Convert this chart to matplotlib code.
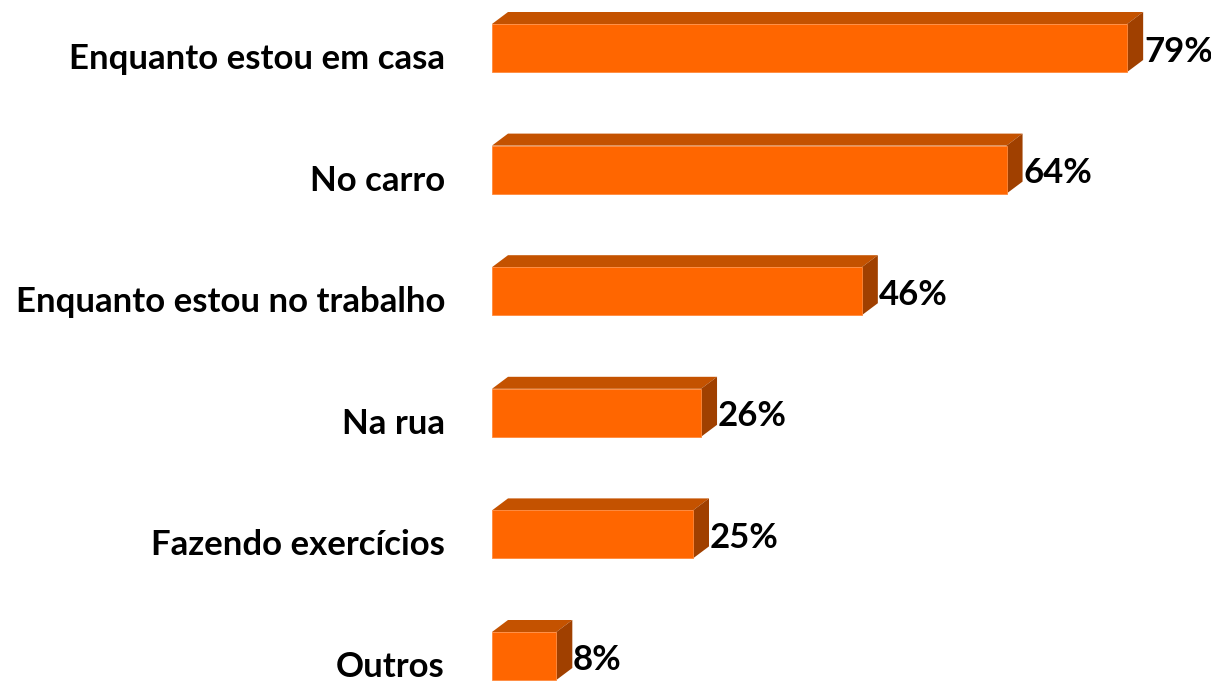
import matplotlib.pyplot as plt
from matplotlib.patches import Polygon

categorias = ['Enquanto estou em casa', 'No carro', 'Enquanto estou no trabalho',
              'Na rua', 'Fazendo exercícios', 'Outros']
valores = [79, 64, 46, 26, 25, 8]
rotulos = ['79%', '64%', '46%', '26%', '25%', '8%']

cor_frente = '#FF6600'
cor_topo = '#C45200'
cor_lado = '#A04000'

fig = plt.figure(figsize=(12.11, 6.81), dpi=100)
# axes starts where the bars start
ax = fig.add_axes([492 / 1211, 0, 719 / 1211, 1])
ax.set_xlim(0, 719 / 8.04)
ax.set_ylim(681 / 121.6 - 48 / 121.6, -48 / 121.6)
ax.axis('off')

altura = 48 / 121.6
dx = 16 / 8.04      # profundidade 3D em x
dy = 12 / 121.6     # profundidade 3D em y

pos = list(range(len(categorias)))
ax.barh(pos, valores, height=altura, color=cor_frente, edgecolor='#FF8A3D',
        linewidth=0.6, zorder=3)

for i, v in enumerate(valores):
    topo = i - altura / 2
    base = i + altura / 2
    # face de cima
    ax.add_patch(Polygon([(0, topo), (dx, topo - dy), (v + dx, topo - dy), (v, topo)],
                         closed=True, facecolor=cor_topo, edgecolor='none', zorder=2))
    # face lateral
    ax.add_patch(Polygon([(v, topo), (v + dx, topo - dy), (v + dx, base - dy), (v, base)],
                         closed=True, facecolor=cor_lado, edgecolor='none', zorder=2))
    ax.text(v + dx + 0.1, i + 0.03, rotulos[i], ha='left', va='center',
            fontsize=25, fontweight='bold', family='Lato', color='black')
    ax.text(-5.85, i + 0.09, categorias[i], ha='right', va='center',
            fontsize=25, fontweight='bold', family='Lato', color='black')

fig.savefig('out.png', dpi=100)
